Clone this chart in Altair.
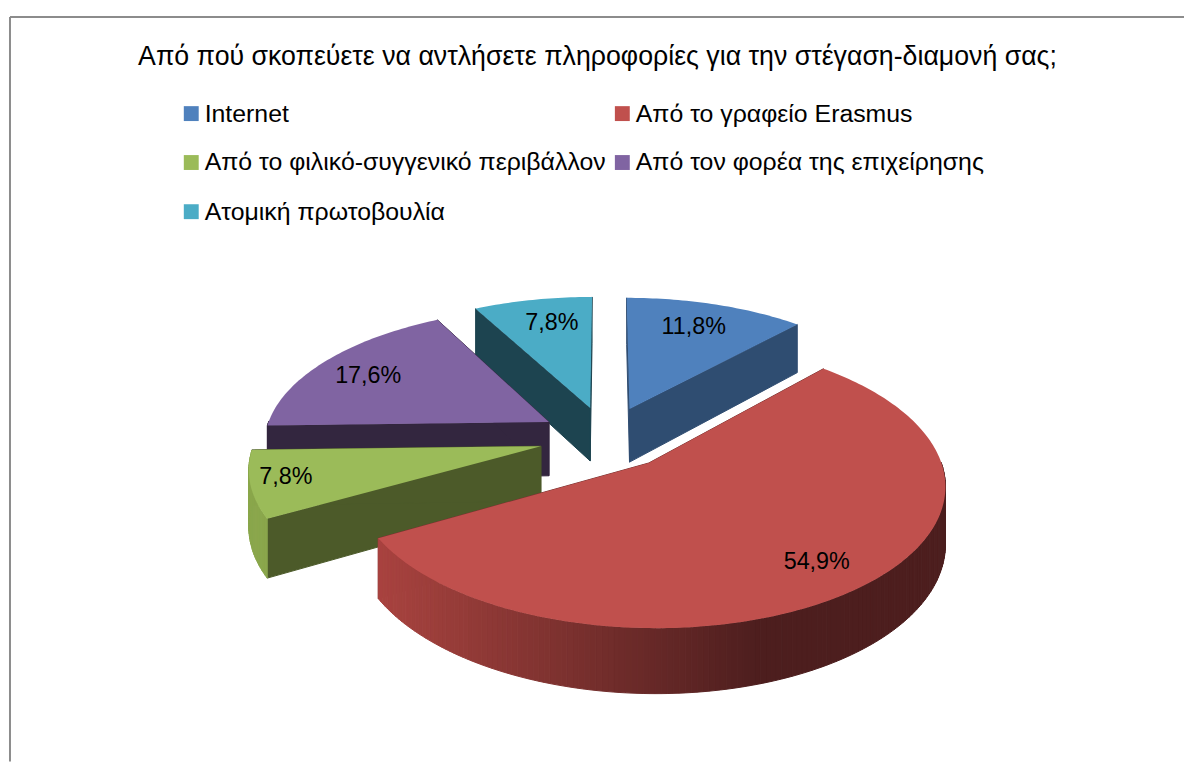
import math
import altair as alt
import pandas as pd

categories = ["Internet", "Από το γραφείο Erasmus", "Από το φιλικό-συγγενικό περιβάλλον",
              "Από τον φορέα της επιχείρησης", "Ατομική πρωτοβουλία"]
values = [11.8, 54.9, 7.8, 17.6, 7.8]
labels = ["11,8%", "54,9%", "7,8%", "17,6%", "7,8%"]
top_colors = ["#4F81BD", "#C0504D", "#9BBB59", "#8064A2", "#4BACC6"]
side_colors = ["#2F4D71", "#7A3331", "#4C5A29", "#33263F", "#1D4450"]
outer_colors = ["#3F6795", "#A8433F", "#8AA64C", "#33263F", "#3C8BA0"]
title_text = "Από πού σκοπεύετε να αντλήσετε πληροφορίες για την στέγαση-διαμονή σας;"

# view geometry of the tilted pie (page pixels)
CX, CY, R, TILT, PERSP, EXPLODE, DEPTH = 610.0, 438.0, 287.0, 0.471, 0.14, 0.235, 55.0
OX, OY = 8, 8
# where each percentage sits inside its slice: radius fraction, angle shift in degrees
LABEL_R = [0.76, 0.815, 0.88, 0.78, 0.76]
LABEL_TURN = [-1, 0, 1, -2, 2]
W, H = 1184, 756


def project(mx, my, z=0.0):
    s = 1.0 / (1.0 - PERSP * my)
    return [CX + R * mx * s - OX, CY + R * TILT * my * s + z * s - OY]


def model(theta, r, mid):
    return (r * math.sin(theta) + EXPLODE * math.sin(mid),
            -r * math.cos(theta) + EXPLODE * -math.cos(mid))


def poly(points, color, key=None):
    return {"type": "Feature", "geometry": {"type": "Polygon", "coordinates": [points + [points[0]]]},
            "properties": {"color": color, "category": key}}


def mix(c1, c2, t):
    a = [int(c1[i:i + 2], 16) for i in (1, 3, 5)]
    b = [int(c2[i:i + 2], 16) for i in (1, 3, 5)]
    return "#%02x%02x%02x" % tuple(round(x + (y - x) * t) for x, y in zip(a, b))


total = sum(values)
walls, tops, label_rows = [], [], []
start = 0.0
spans = []
for v in values:
    end = start + v / total * 2 * math.pi
    spans.append((start, end))
    start = end

for i in [4, 0, 3, 2, 1]:
    a0, a1 = spans[i]
    mid = (a0 + a1) / 2
    n = max(3, int((a1 - a0) / math.radians(1)))
    arc = [a0 + (a1 - a0) * k / n for k in range(n + 1)]
    apex = model(0, 0, mid)
    rim = [model(t, 1, mid) for t in arc]
    for t_end in (a0, a1):
        p = model(t_end, 1, mid)
        walls.append(poly([project(*apex), project(*p), project(*p, DEPTH), project(*apex, DEPTH)], side_colors[i]))
    for k in range(n):
        if math.cos((arc[k] + arc[k + 1]) / 2) < 0:
            p, q = rim[k], rim[k + 1]
            if i == 1:
                x = (project(*p)[0] + OX - 385) / (948 - 385)
                shade = mix("#A8433F", "#4D1E1E", min(1, max(0, x / 0.68)))
            else:
                shade = outer_colors[i]
            walls.append(poly([project(*p), project(*q), project(*q, DEPTH), project(*p, DEPTH)], shade))
    tops.append(poly([project(*apex)] + [project(*p) for p in rim], top_colors[i], categories[i]))
    lx, ly = project(*model(mid + math.radians(LABEL_TURN[i]), LABEL_R[i], mid))
    label_rows.append({"x": lx, "y": ly, "label": labels[i]})

wall_layer = alt.Chart(alt.Data(values=walls)).mark_geoshape(strokeWidth=1).encode(
    fill=alt.Fill("properties.color:N", scale=None, legend=None),
    stroke=alt.Stroke("properties.color:N", scale=None, legend=None),
).project(type="identity", scale=1, translate=[0, 0])

top_layer = alt.Chart(alt.Data(values=tops)).mark_geoshape(strokeWidth=0).encode(
    color=alt.Color("properties.category:N",
                    scale=alt.Scale(domain=categories, range=top_colors),
                    sort=categories,
                    legend=alt.Legend(title=None, orient="none", legendX=172, legendY=91, columns=2,
                                      direction="horizontal",
                                      symbolType="square", symbolSize=225, symbolStrokeWidth=0,
                                      labelFont="Liberation Sans", labelFontSize=25, labelLimit=600,
                                      labelColor="#000000", rowPadding=23.5, columnPadding=4,
                                      labelOffset=1, symbolOpacity=1)),
).project(type="identity", scale=1, translate=[0, 0])

xs = alt.Scale(domain=[0, W], range=[0, W])
ys = alt.Scale(domain=[0, H], range=[0, H])
text_layer = alt.Chart(pd.DataFrame(label_rows)).mark_text(
    font="Liberation Sans", fontSize=23.5, color="#000000").encode(
    x=alt.X("x:Q", scale=xs, axis=None), y=alt.Y("y:Q", scale=ys, axis=None), text="label:N")

frame_rows = pd.DataFrame({"x": [2, 2], "y": [6.5, 6.5], "x2": [2, W], "y2": [H, 6.5]})
frame = alt.Chart(frame_rows).mark_rule(color="#8C8C8C", strokeWidth=2).encode(
    x=alt.X("x:Q", scale=xs, axis=None), x2="x2:Q",
    y=alt.Y("y:Q", scale=ys, axis=None), y2="y2:Q")

chart = alt.layer(frame, wall_layer, top_layer, text_layer).resolve_scale(
    color="independent", fill="independent", stroke="independent"
).properties(
    width=W, height=H, padding=0, autosize=alt.AutoSizeParams(type="none"),
    title=alt.TitleParams(title_text, font="Liberation Sans", fontSize=26.9, fontWeight="normal",
                          color="#000000", anchor="middle", offset=-61, dx=1.5),
).configure_view(stroke=None)

chart.save("out.html", embed_options={"renderer": "svg", "actions": False})
